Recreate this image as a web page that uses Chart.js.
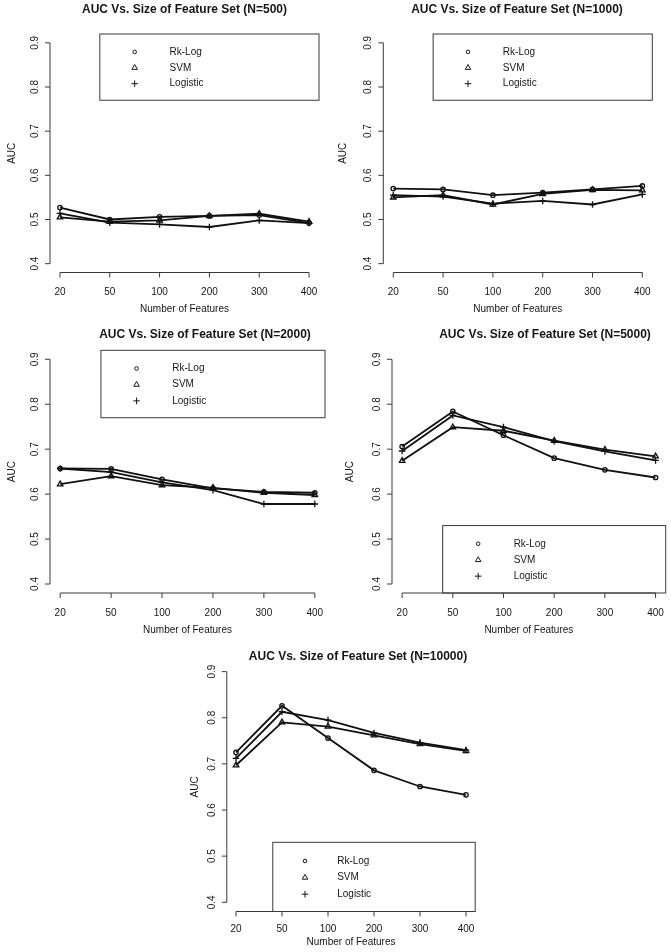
<!DOCTYPE html>
<html>
<head>
<meta charset="utf-8">
<title>AUC Vs. Size of Feature Set</title>
<script src="https://cdn.jsdelivr.net/npm/chart.js@4.4.0/dist/chart.umd.min.js"></script>
<style>
  html, body { margin: 0; padding: 0; background: #fff; }
  #wrap { position: relative; width: 671px; height: 952px; }
  #wrap canvas { position: absolute; left: 0; top: 0; }
</style>
</head>
<body>
<div id="wrap"></div>
<script>
// x categories (number of features) and y ticks
const featureLabels = ['20', '50', '100', '200', '300', '400'];
const yTickValues = [0.4, 0.5, 0.6, 0.7, 0.8, 0.9];
const yTickLabels = ['0.4', '0.5', '0.6', '0.7', '0.8', '0.9'];
const seriesNames = ['Rk-Log', 'SVM', 'Logistic'];

// AUC values, one array per method and sample size
const rkLog500 = [0.527, 0.500, 0.506, 0.508, 0.510, 0.492];
const svm500 = [0.505, 0.495, 0.498, 0.508, 0.513, 0.495];
const logistic500 = [0.514, 0.493, 0.489, 0.483, 0.498, 0.492];

const rkLog1000 = [0.570, 0.568, 0.555, 0.561, 0.568, 0.576];
const svm1000 = [0.550, 0.555, 0.534, 0.558, 0.567, 0.566];
const logistic1000 = [0.555, 0.552, 0.536, 0.542, 0.534, 0.557];

const rkLog2000 = [0.657, 0.656, 0.633, 0.613, 0.605, 0.603];
const svm2000 = [0.622, 0.640, 0.620, 0.614, 0.603, 0.598];
const logistic2000 = [0.657, 0.649, 0.626, 0.609, 0.578, 0.578];

const rkLog5000 = [0.706, 0.784, 0.731, 0.680, 0.654, 0.637];
const svm5000 = [0.674, 0.749, 0.741, 0.719, 0.699, 0.684];
const logistic5000 = [0.696, 0.775, 0.749, 0.718, 0.695, 0.675];

const rkLog10000 = [0.725, 0.826, 0.756, 0.686, 0.651, 0.633];
const svm10000 = [0.697, 0.790, 0.781, 0.762, 0.743, 0.728];
const logistic10000 = [0.712, 0.813, 0.795, 0.767, 0.746, 0.730];

const FONT = "'Liberation Sans', Arial, Helvetica, sans-serif";
const INK = '#161616';
const AXIS = '#3a3a3a';
const W = 671, H = 952;

// marker style per series (R pch 1, 2, 3)
const markers = [
  { style: 'circle', r: 2.2 },
  { style: 'triangle', r: 3.2 },
  { style: 'cross', r: 3.3 }
];

// panel layout, in page pixels
const panels = [
  { n: '500', series: [rkLog500, svm500, logistic500],
    area: { left: 50, top: 34, right: 319, bottom: 272.5 },
    titleX: 184.5, titleY: 10, yTitleX: 12, tickDy: 20, axisTitleDy: 37, legend: 'top' },
  { n: '1000', series: [rkLog1000, svm1000, logistic1000],
    area: { left: 383.3, top: 34, right: 652.3, bottom: 272.5 },
    titleX: 517, titleY: 10, yTitleX: 343, tickDy: 20, axisTitleDy: 37, legend: 'top' },
  { n: '2000', series: [rkLog2000, svm2000, logistic2000],
    area: { left: 50, top: 350.3, right: 325, bottom: 593 },
    titleX: 205, titleY: 335, yTitleX: 12, tickDy: 20, axisTitleDy: 37, legend: 'top' },
  { n: '5000', series: [rkLog5000, svm5000, logistic5000],
    area: { left: 392, top: 350.3, right: 666, bottom: 593 },
    titleX: 545, titleY: 335, yTitleX: 350, tickDy: 20, axisTitleDy: 37, legend: 'bottom' },
  { n: '10000', series: [rkLog10000, svm10000, logistic10000],
    area: { left: 226.8, top: 662.4, right: 475.2, bottom: 911.5 },
    titleX: 358, titleY: 657, yTitleX: 195, tickDy: 18, axisTitleDy: 31, legend: 'bottom' }
];

function drawMarker(ctx, style, x, y, r) {
  ctx.beginPath();
  if (style === 'circle') {
    ctx.arc(x, y, r, 0, Math.PI * 2);
  } else if (style === 'triangle') {
    const h = r * 1.5, half = r * Math.sqrt(3) / 2;
    ctx.moveTo(x, y - r);
    ctx.lineTo(x + half, y - r + h);
    ctx.lineTo(x - half, y - r + h);
    ctx.closePath();
  } else {
    ctx.moveTo(x - r, y); ctx.lineTo(x + r, y);
    ctx.moveTo(x, y - r); ctx.lineTo(x, y + r);
  }
  ctx.stroke();
}

// R-like axes, titles and boxed legend
const rStyle = {
  id: 'rStyle',
  afterDraw(chart, args, opts) {
    const { ctx, chartArea: a } = chart;
    const x = chart.scales.x, y = chart.scales.y;
    ctx.save();
    ctx.strokeStyle = AXIS;
    ctx.lineWidth = 1;

    // axis lines + tick marks
    ctx.beginPath();
    ctx.moveTo(a.left, y.getPixelForValue(yTickValues[0]));
    ctx.lineTo(a.left, y.getPixelForValue(yTickValues[yTickValues.length - 1]));
    yTickValues.forEach(v => {
      const py = y.getPixelForValue(v);
      ctx.moveTo(a.left, py); ctx.lineTo(a.left - 5, py);
    });
    ctx.moveTo(x.getPixelForValue(0), a.bottom);
    ctx.lineTo(x.getPixelForValue(featureLabels.length - 1), a.bottom);
    featureLabels.forEach((l, i) => {
      const px = x.getPixelForValue(i);
      ctx.moveTo(px, a.bottom); ctx.lineTo(px, a.bottom + 5);
    });
    ctx.stroke();

    // tick labels
    ctx.fillStyle = INK;
    ctx.font = '10px ' + FONT;
    ctx.textAlign = 'center';
    ctx.textBaseline = 'middle';
    featureLabels.forEach((l, i) => {
      ctx.fillText(l, x.getPixelForValue(i), a.bottom + opts.tickDy);
    });
    yTickValues.forEach((v, i) => {
      ctx.save();
      ctx.translate(a.left - 15, y.getPixelForValue(v));
      ctx.rotate(-Math.PI / 2);
      ctx.fillText(yTickLabels[i], 0, 0);
      ctx.restore();
    });

    // axis titles
    ctx.fillText('Number of Features', (a.left + a.right) / 2, a.bottom + opts.axisTitleDy);
    ctx.save();
    ctx.translate(opts.yTitleX, (a.top + a.bottom) / 2);
    ctx.rotate(-Math.PI / 2);
    ctx.fillText('AUC', 0, 0);
    ctx.restore();

    // main title
    ctx.font = 'bold 12px ' + FONT;
    ctx.fillText(opts.title, opts.titleX, opts.titleY);

    // legend box, placed in data units like R's legend()
    const bx0 = x.getPixelForValue(0.8);
    const bh = Math.abs(y.getPixelForValue(0.4) - y.getPixelForValue(0.55));
    const by0 = opts.legend === 'top' ? a.top : a.bottom - bh;
    ctx.strokeStyle = AXIS;
    ctx.strokeRect(bx0, by0, a.right - bx0, bh);
    const symX = x.getPixelForValue(1.5), txtX = x.getPixelForValue(2.2);
    ctx.font = '10px ' + FONT;
    ctx.textAlign = 'left';
    ctx.lineWidth = 1;
    seriesNames.forEach((name, i) => {
      const ry = by0 + bh * (0.27 + 0.24 * i);
      ctx.strokeStyle = INK;
      drawMarker(ctx, markers[i].style, symX, ry, i === 0 ? 1.8 : markers[i].r);
      ctx.fillText(name, txtX, ry);
    });
    ctx.restore();
  }
};

const wrap = document.getElementById('wrap');
panels.forEach(p => {
  const canvas = document.createElement('canvas');
  canvas.width = W;
  canvas.height = H;
  wrap.appendChild(canvas);
  new Chart(canvas, {
    type: 'line',
    data: {
      datasets: p.series.map((vals, s) => ({
        label: seriesNames[s],
        data: vals.map((v, i) => ({ x: i, y: v })),
        borderColor: '#111',
        borderWidth: 1.8,
        tension: 0,
        pointStyle: markers[s].style,
        pointRadius: markers[s].r,
        pointBorderWidth: 1.3,
        pointBorderColor: '#111',
        pointBackgroundColor: 'rgba(0,0,0,0)'
      }))
    },
    options: {
      responsive: false,
      animation: false,
      devicePixelRatio: 1,
      layout: {
        padding: {
          left: p.area.left,
          top: p.area.top,
          right: W - p.area.right,
          bottom: H - p.area.bottom
        }
      },
      scales: {
        x: { type: 'linear', min: -0.2, max: 5.2, display: false },
        y: { type: 'linear', min: 0.38, max: 0.92, display: false }
      },
      plugins: {
        legend: { display: false },
        title: { display: false },
        tooltip: { enabled: false },
        rStyle: {
          title: 'AUC Vs. Size of Feature Set (N=' + p.n + ')',
          titleX: p.titleX, titleY: p.titleY, yTitleX: p.yTitleX,
          tickDy: p.tickDy, axisTitleDy: p.axisTitleDy, legend: p.legend
        }
      }
    },
    plugins: [rStyle]
  });
});
</script>
</body>
</html>
